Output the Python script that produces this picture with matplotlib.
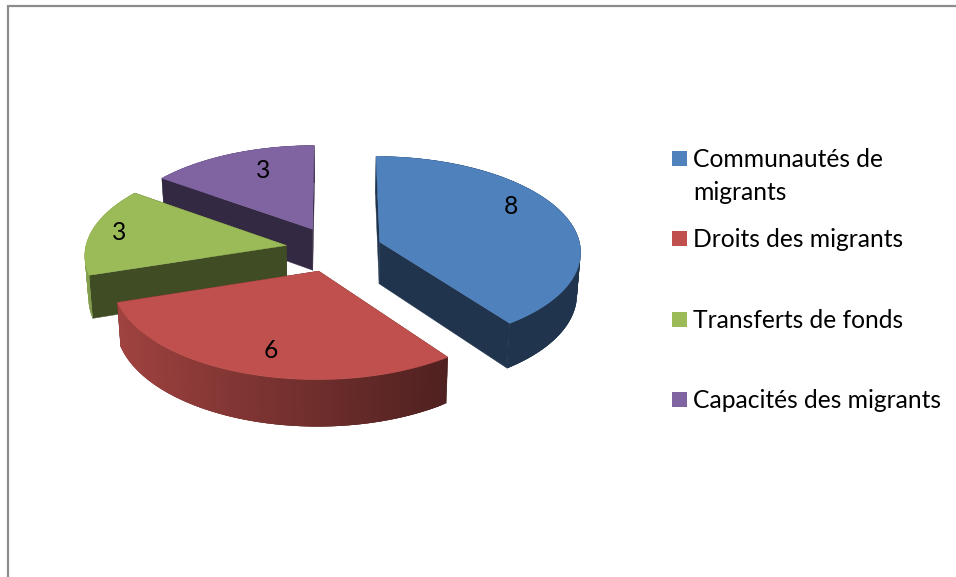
import numpy as np
import matplotlib
matplotlib.use('Agg')
import matplotlib.pyplot as plt
from matplotlib.patches import Rectangle

# Data
categories = ['Communautés de\nmigrants', 'Droits des migrants', 'Transferts de fonds', 'Capacités des migrants']
values = [8, 6, 3, 3]
colors = ['#4f81bd', '#c0504d', '#9bbb59', '#8064a2']

# Projection of the pie disc on the page (pixels)
centerX, centerY = 334, 249
radius = 201
tilt = 94.5
perspective = 0.09
explode = 0.241
bottomShrink = 0.985

labelPos = [(511, 207), (271, 351), (119, 233), (263, 171)]
legendY = [157, 237, 318, 398]
legendBoxY = [158.5, 238.5, 319.5, 399.5]

def Project(u, v):
    d = 1 + perspective * v
    return centerX + radius * u / d, centerY - tilt * v / d

def Shade(color, factor):
    return tuple(c * factor for c in matplotlib.colors.to_rgb(color))

def RimFactor(theta):
    # Lit from the left, dark towards the right
    f = 0.85 - (np.sin(theta) + 1) / 1.59 * 0.44
    return max(f, 0.41)

def DrawSlice(ax, start, end, color):
    mid = (start + end) / 2
    ou, ov = explode * np.sin(mid), explode * np.cos(mid)
    thetas = np.linspace(start, end, 120)
    ru, rv = ou + np.sin(thetas), ov + np.cos(thetas)
    rx, ry = Project(ru, rv)
    cx, cy = Project(ou, ov)

    def Lower(x, y, v):
        # Walls get a bit taller towards the viewer
        return centerX + (np.asarray(x) - centerX) * bottomShrink, np.asarray(y) + 42 - 4 * np.asarray(v)

    lx, ly = Lower(rx, ry, rv)

    def DrawRim(front):
        # Thin overlapping quads so the shading runs along the rim without seams
        for i in range(len(thetas) - 1):
            if (np.cos(thetas[i]) < 0) != front:
                continue
            j = min(i + 3, len(thetas) - 1)
            c = Shade(color, RimFactor((thetas[i] + thetas[i + 1]) / 2))
            ax.fill(np.r_[rx[i:j + 1], lx[i:j + 1][::-1]], np.r_[ry[i:j + 1], ly[i:j + 1][::-1]], color=c, lw=0, zorder=2)

    DrawRim(False)

    # Radial walls
    dark = Shade(color, 0.41)
    for x, y, v in ((rx[0], ry[0], rv[0]), (rx[-1], ry[-1], rv[-1])):
        bx, by = Lower([cx, x], [cy, y], [ov, v])
        ax.fill([cx, x, bx[1], bx[0]], [cy, y, by[1], by[0]], color=dark, lw=0.3, zorder=2)

    DrawRim(True)

    # Top face
    ax.fill(np.r_[cx, rx], np.r_[cy, ry], color=color, lw=0.3, zorder=2)

fig = plt.figure(figsize=(9.56, 5.77), dpi=100)
ax = fig.add_axes([0, 0, 1, 1])
ax.set_xlim(0, 956)
ax.set_ylim(577, 0)
ax.axis('off')
plt.rcParams['font.family'] = ['Lato', 'DejaVu Sans']

# Chart border
ax.plot([8, 8, 956], [577, 6.2, 6.2], color='#8c8c8c', lw=1.6, solid_joinstyle='miter')

# Slices, clockwise from the top
edges = np.r_[0, np.cumsum(values)] / sum(values) * 2 * np.pi
for i in [3, 2, 0, 1]:
    DrawSlice(ax, edges[i], edges[i + 1], colors[i])

for (x, y), v in zip(labelPos, values):
    ax.text(x, y, str(v), fontsize=17.7, ha='center', va='center', color='black', zorder=5)

# Legend
for name, y, by, c in zip(categories, legendY, legendBoxY, colors):
    ax.add_patch(Rectangle((672, by - 7.5), 15, 15, color=c, lw=0))
    ax.text(693, y - 9, name, fontsize=17.7, ha='left', va='top', linespacing=1.53, color='black')

fig.savefig('out.png', dpi=100)
